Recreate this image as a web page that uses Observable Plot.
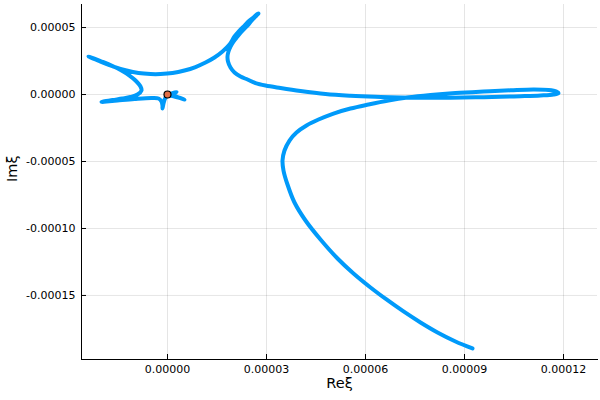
<!DOCTYPE html>
<html>
<head>
<meta charset="utf-8">
<script src="https://cdn.jsdelivr.net/npm/d3@7"></script>
<script src="https://cdn.jsdelivr.net/npm/@observablehq/plot@0.6"></script>
<style>
  html, body { margin: 0; padding: 0; background: #fff; }
  #chart svg { display: block; }
</style>
</head>
<body>
<div id="chart"></div>
<script>
// Curve in the complex plane (Re ξ, Im ξ) (×1e-5)
const reXi = [
  9.242, 8.727, 8.182, 7.667, 7.152, 6.636, 6.152, 5.636, 5.152, 4.636,
  4.182, 3.848, 3.636, 3.515, 3.485, 3.545, 3.697, 3.909, 4.212, 4.576,
  5.030, 5.545, 6.091, 6.697, 7.273, 7.970, 8.727, 9.576, 10.394, 11.091,
  11.545, 11.788, 11.848, 11.697, 11.303, 10.697, 10.091, 9.333, 8.576, 7.818,
  7.061, 6.303, 5.545, 4.788, 4.030, 3.424, 2.970, 2.667, 2.424, 2.212,
  2.030, 1.909, 1.833, 1.818, 1.848, 1.909, 2.000, 2.121, 2.273, 2.424,
  2.576, 2.697, 2.758, 2.697, 2.606, 2.485, 2.333, 2.182, 2.030, 1.879,
  1.667, 1.424, 1.152, 0.848, 0.515, 0.152, -0.212, -0.515, -0.879, -1.242,
  -1.636, -2.030, -2.333, -2.394, -2.303, -2.030, -1.697, -1.394, -1.152, -0.970,
  -0.818, -0.788, -0.909, -1.121, -1.364, -1.667, -1.939, -2.000, -1.848, -1.515,
  -1.000, -0.485, -0.273, -0.182, -0.152, -0.152, -0.121, -0.061, 0.030, 0.152,
  0.273, 0.152, 0.273, 0.394, 0.515, 0.333, 0.152, 0.000
];
const imXi = [
  -18.955, -18.433, -17.761, -17.015, -16.194, -15.299, -14.403, -13.358, -12.239, -10.821,
  -9.403, -8.060, -6.716, -5.672, -4.925, -4.179, -3.433, -2.836, -2.313, -1.866,
  -1.418, -1.045, -0.746, -0.448, -0.224, -0.037, 0.112, 0.224, 0.313, 0.373,
  0.336, 0.224, 0.112, 0.000, -0.075, -0.127, -0.164, -0.209, -0.239, -0.246,
  -0.224, -0.172, -0.090, 0.037, 0.261, 0.485, 0.672, 0.858, 1.119, 1.343,
  1.642, 2.015, 2.463, 2.836, 3.209, 3.582, 3.955, 4.328, 4.776, 5.149,
  5.597, 5.896, 6.045, 5.970, 5.746, 5.522, 5.149, 4.776, 4.328, 3.731,
  3.209, 2.761, 2.388, 2.052, 1.791, 1.604, 1.530, 1.530, 1.604, 1.791,
  2.090, 2.463, 2.761, 2.836, 2.761, 2.500, 2.164, 1.791, 1.418, 1.045,
  0.597, 0.299, 0.000, -0.187, -0.299, -0.410, -0.522, -0.560, -0.522, -0.448,
  -0.336, -0.261, -0.299, -0.522, -0.821, -1.045, -0.672, -0.224, -0.037, 0.112,
  0.187, 0.000, -0.149, -0.261, -0.373, -0.224, -0.112, 0.000
];
const unit = 1e-5;
const originRe = [0];
const originIm = [0];

const xTicks = [0, 3e-5, 6e-5, 9e-5, 1.2e-4];
const yTicks = [5e-5, 0, -5e-5, -1e-4, -1.5e-4];
const xDomain = [-2.606e-5, 1.303e-4];
const yDomain = [-1.978e-4, 6.72e-5];
const xLabel = "Reξ";
const yLabel = "Imξ";

const curve = reXi.map((x, i) => ({x: x * unit, y: imXi[i] * unit}));
const origin = originRe.map((x, i) => ({x, y: originIm[i]}));
const fmt = d => d.toFixed(5);

const chart = Plot.plot({
  width: 600,
  height: 400,
  marginLeft: 81,
  marginRight: 3,
  marginTop: 4,
  marginBottom: 41,
  style: {fontFamily: "DejaVu Sans", fontSize: "11px", color: "#000", background: "#fff"},
  x: {domain: xDomain},
  y: {domain: yDomain},
  marks: [
    Plot.gridX(xTicks, {stroke: "#000", strokeOpacity: 0.1, strokeWidth: 1}),
    Plot.gridY(yTicks, {stroke: "#000", strokeOpacity: 0.1, strokeWidth: 1}),
    // inward tick marks
    Plot.axisX({ticks: xTicks, tickSize: 5, dy: -5, tickFormat: () => "", label: null, stroke: "#000"}),
    Plot.axisY({ticks: yTicks, tickSize: 5, dx: 5, tickFormat: () => "", label: null, stroke: "#000"}),
    // tick labels
    Plot.axisX({ticks: xTicks, tickSize: 0, tickPadding: 6, tickFormat: fmt, label: null, fontSize: 11}),
    Plot.axisY({ticks: yTicks, tickSize: 0, tickPadding: 6, tickFormat: fmt, label: null, fontSize: 11}),
    Plot.frame({anchor: "bottom", stroke: "#000", strokeWidth: 1}),
    Plot.frame({anchor: "left", stroke: "#000", strokeWidth: 1}),
    Plot.line(curve, {x: "x", y: "y", stroke: "#009AFA", strokeWidth: 4, curve: "catmull-rom", strokeLinejoin: "round", strokeLinecap: "round"}),
    Plot.dot(origin, {x: "x", y: "y", r: 3.5, fill: "#E26F46", stroke: "#000", strokeWidth: 1.2}),
    Plot.text([xLabel], {frameAnchor: "bottom", dy: 28, text: d => d, fontSize: 14.5, fill: "#000"}),
    Plot.text([yLabel], {frameAnchor: "left", dx: -69, rotate: -90, text: d => d, fontSize: 14.5, fill: "#000"})
  ]
});
document.getElementById("chart").appendChild(chart);
</script>
</body>
</html>
